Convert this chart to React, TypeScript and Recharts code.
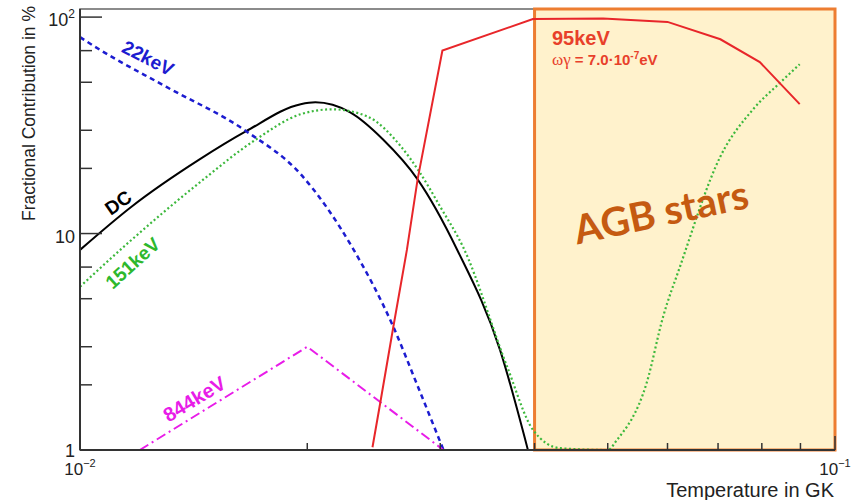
import React from 'react';
import { LineChart, Line, XAxis, YAxis, ReferenceArea } from 'recharts';

const xTicks = [0.01, 0.02, 0.03, 0.04, 0.05, 0.06, 0.07, 0.08, 0.09, 0.1];
const yTicks = [1, 2, 3, 4, 5, 6, 7, 8, 9, 10, 20, 30, 40, 50, 60, 70, 80, 90, 100];

// temperature (GK) / fractional contribution (%)
const dcT = [0.01, 0.0117, 0.0144, 0.0166, 0.0196, 0.0205, 0.0228, 0.0252, 0.028, 0.0316, 0.036, 0.0392];
const dcV = [8.4, 13.3, 22, 29.7, 39.6, 40.4, 36.3, 27.2, 17.8, 8.4, 2.9, 1.0];

const kev22T = [0.01, 0.0106, 0.013, 0.0166, 0.0196, 0.023, 0.026, 0.0279, 0.0303];
const kev22V = [80.8, 71, 47.7, 29.7, 18.8, 8.5, 3.71, 2.04, 1.0];

const kev151T = [0.01, 0.0116, 0.0144, 0.0171, 0.0196, 0.0216, 0.024, 0.0266, 0.0282, 0.03, 0.0322, 0.0368, 0.0398, 0.0432, 0.05, 0.0514, 0.0563, 0.0592, 0.0623, 0.0705, 0.0779, 0.0847, 0.0898];
const kev151V = [5.68, 9.1, 17.2, 27.2, 35.6, 37.5, 34.8, 25.3, 19.1, 13.3, 8.6, 2.42, 1.24, 1.02, 1.0, 1.11, 2.04, 4.13, 7.0, 22.7, 37.5, 50, 60.6];

const kev844T = [0.012, 0.02, 0.0303];
const kev844V = [1, 3, 1];

const kev95T = [0.0244, 0.025, 0.026, 0.0271, 0.028, 0.0302, 0.0398, 0.0493, 0.06, 0.0705, 0.0795, 0.0898];
const kev95V = [1.03, 1.67, 3.7, 8.4, 17.8, 70, 98, 98.5, 95, 79, 62, 39.6];

const toPoints = (t: number[], v: number[]) => t.map((x, i) => ({ x, y: v[i] }));

const FONT = '"Liberation Sans", Arial, Helvetica, sans-serif';
const AXIS = '#333333';

function YTick(props: any) {
  const { x, y, payload } = props;
  const v = payload.value;
  const major = v === 1 || v === 10 || v === 100;
  return (
    <g>
      <line x1={x} x2={x + (major ? 22 : 12)} y1={y} y2={y} stroke={AXIS} strokeWidth={1.5} />
      {major && (
        <text x={x - 5} y={y + (v === 1 ? 7 : 9)} textAnchor="end" fontFamily={FONT} fontSize={18} fill="#222">
          {v === 100 ? (
            <>
              <tspan>10</tspan>
              <tspan dy={-8} fontSize={12}>2</tspan>
            </>
          ) : (
            String(v)
          )}
        </text>
      )}
    </g>
  );
}

function XTick(props: any) {
  const { x, y, payload } = props;
  const v = payload.value;
  const major = v === 0.01 || v === 0.1;
  return (
    <g>
      <line x1={x} x2={x} y1={y} y2={y - (major ? 14 : 7)} stroke={AXIS} strokeWidth={1.5} />
      {major && (
        <text x={x} y={y + 25} textAnchor="middle" fontFamily={FONT} fontSize={17} fill="#222">
          <tspan>10</tspan>
          <tspan dy={-8} fontSize={11}>{v === 0.01 ? '\u22122' : '\u22121'}</tspan>
        </text>
      )}
    </g>
  );
}

export default function App() {
  const W = 854;
  const H = 500;
  return (
    <div style={{ position: 'absolute', left: 0, top: 0, width: W, height: H, background: '#fff' }}>
      <LineChart width={W} height={H} margin={{ top: 9, right: 19, left: 0, bottom: 0 }}>
        <XAxis
          dataKey="x"
          type="number"
          scale="log"
          domain={[0.01, 0.1]}
          ticks={xTicks}
          allowDataOverflow
          height={50}
          tickSize={0}
          tickMargin={0}
          tickLine={false}
          axisLine={{ stroke: AXIS, strokeWidth: 2 }}
          tick={<XTick />}
        />
        <YAxis
          dataKey="y"
          type="number"
          scale="log"
          domain={[1, 109]}
          ticks={yTicks}
          allowDataOverflow
          width={80}
          tickSize={0}
          tickMargin={0}
          tickLine={false}
          axisLine={{ stroke: AXIS, strokeWidth: 2 }}
          tick={<YTick />}
        />
        <ReferenceArea x1={0.01} x2={0.1} y1={1} y2={109} fill="none" stroke="#666" strokeWidth={1.5} fillOpacity={0} />
        <ReferenceArea x1={0.04} x2={0.1} y1={1} y2={109} fill="#FFF2CC" fillOpacity={1} stroke="#ED7D31" strokeWidth={3} />
        <Line data={toPoints(dcT, dcV)} dataKey="y" type="monotone" stroke="#000" strokeWidth={2} dot={false} isAnimationActive={false} />
        <Line data={toPoints(kev22T, kev22V)} dataKey="y" type="monotone" stroke="#1c1cd0" strokeWidth={2.5} strokeDasharray="5 4" dot={false} isAnimationActive={false} />
        <Line data={toPoints(kev151T, kev151V)} dataKey="y" type="monotone" stroke="#3cb83c" strokeWidth={2.2} strokeDasharray="2 2.5" dot={false} isAnimationActive={false} />
        <Line data={toPoints(kev844T, kev844V)} dataKey="y" type="linear" stroke="#e81ce8" strokeWidth={2} strokeDasharray="10 4 2 4" dot={false} isAnimationActive={false} />
        <Line data={toPoints(kev95T, kev95V)} dataKey="y" type="linear" stroke="#e8262a" strokeWidth={2} dot={false} isAnimationActive={false} />
      </LineChart>
      <svg width={W} height={H} style={{ position: 'absolute', left: 0, top: 0, pointerEvents: 'none' }}>
        <text x={35} y={6} transform="rotate(-90 35 6)" textAnchor="end" fontFamily={FONT} fontSize={17.5} fill="#222">
          Fractional Contribution in %
        </text>
        <text x={834} y={497} textAnchor="end" fontFamily={FONT} fontSize={20} fill="#222">
          Temperature in GK
        </text>
        <text x={145} y={64} transform="rotate(27 145 64)" textAnchor="middle" fontFamily={FONT} fontWeight="bold" fontSize={19} fill="#1c1cd0">
          22keV
        </text>
        <text x={122} y={208} transform="rotate(-35 122 208)" textAnchor="middle" fontFamily={FONT} fontWeight="bold" fontSize={19} fill="#000">
          DC
        </text>
        <text x={137} y={268} transform="rotate(-42 137 268)" textAnchor="middle" fontFamily={FONT} fontWeight="bold" fontSize={19} fill="#2db82d">
          151keV
        </text>
        <text x={198} y={405} transform="rotate(-31 198 405)" textAnchor="middle" fontFamily={FONT} fontWeight="bold" fontSize={20} fill="#e81ce8">
          844keV
        </text>
        <text x={552} y={45} fontFamily={FONT} fontWeight="bold" fontSize={20} fill="#e8402a">
          95keV
        </text>
        <text x={552} y={65} fontFamily={FONT} fontWeight="bold" fontSize={15} fill="#e8402a">
          <tspan fontFamily='"Liberation Serif", "DejaVu Serif", serif' fontWeight="normal" fontSize={17}>ωγ</tspan>
          <tspan> = 7.0·10</tspan>
          <tspan dy={-6} fontSize={10}>-7</tspan>
          <tspan dy={6}>eV</tspan>
        </text>
        <text x={664} y={226} transform="rotate(-12 664 226)" textAnchor="middle" fontFamily="Lato, 'Open Sans', sans-serif" fontWeight="bold" fontSize={40} fill="#C55A11">
          AGB stars
        </text>
      </svg>
    </div>
  );
}
